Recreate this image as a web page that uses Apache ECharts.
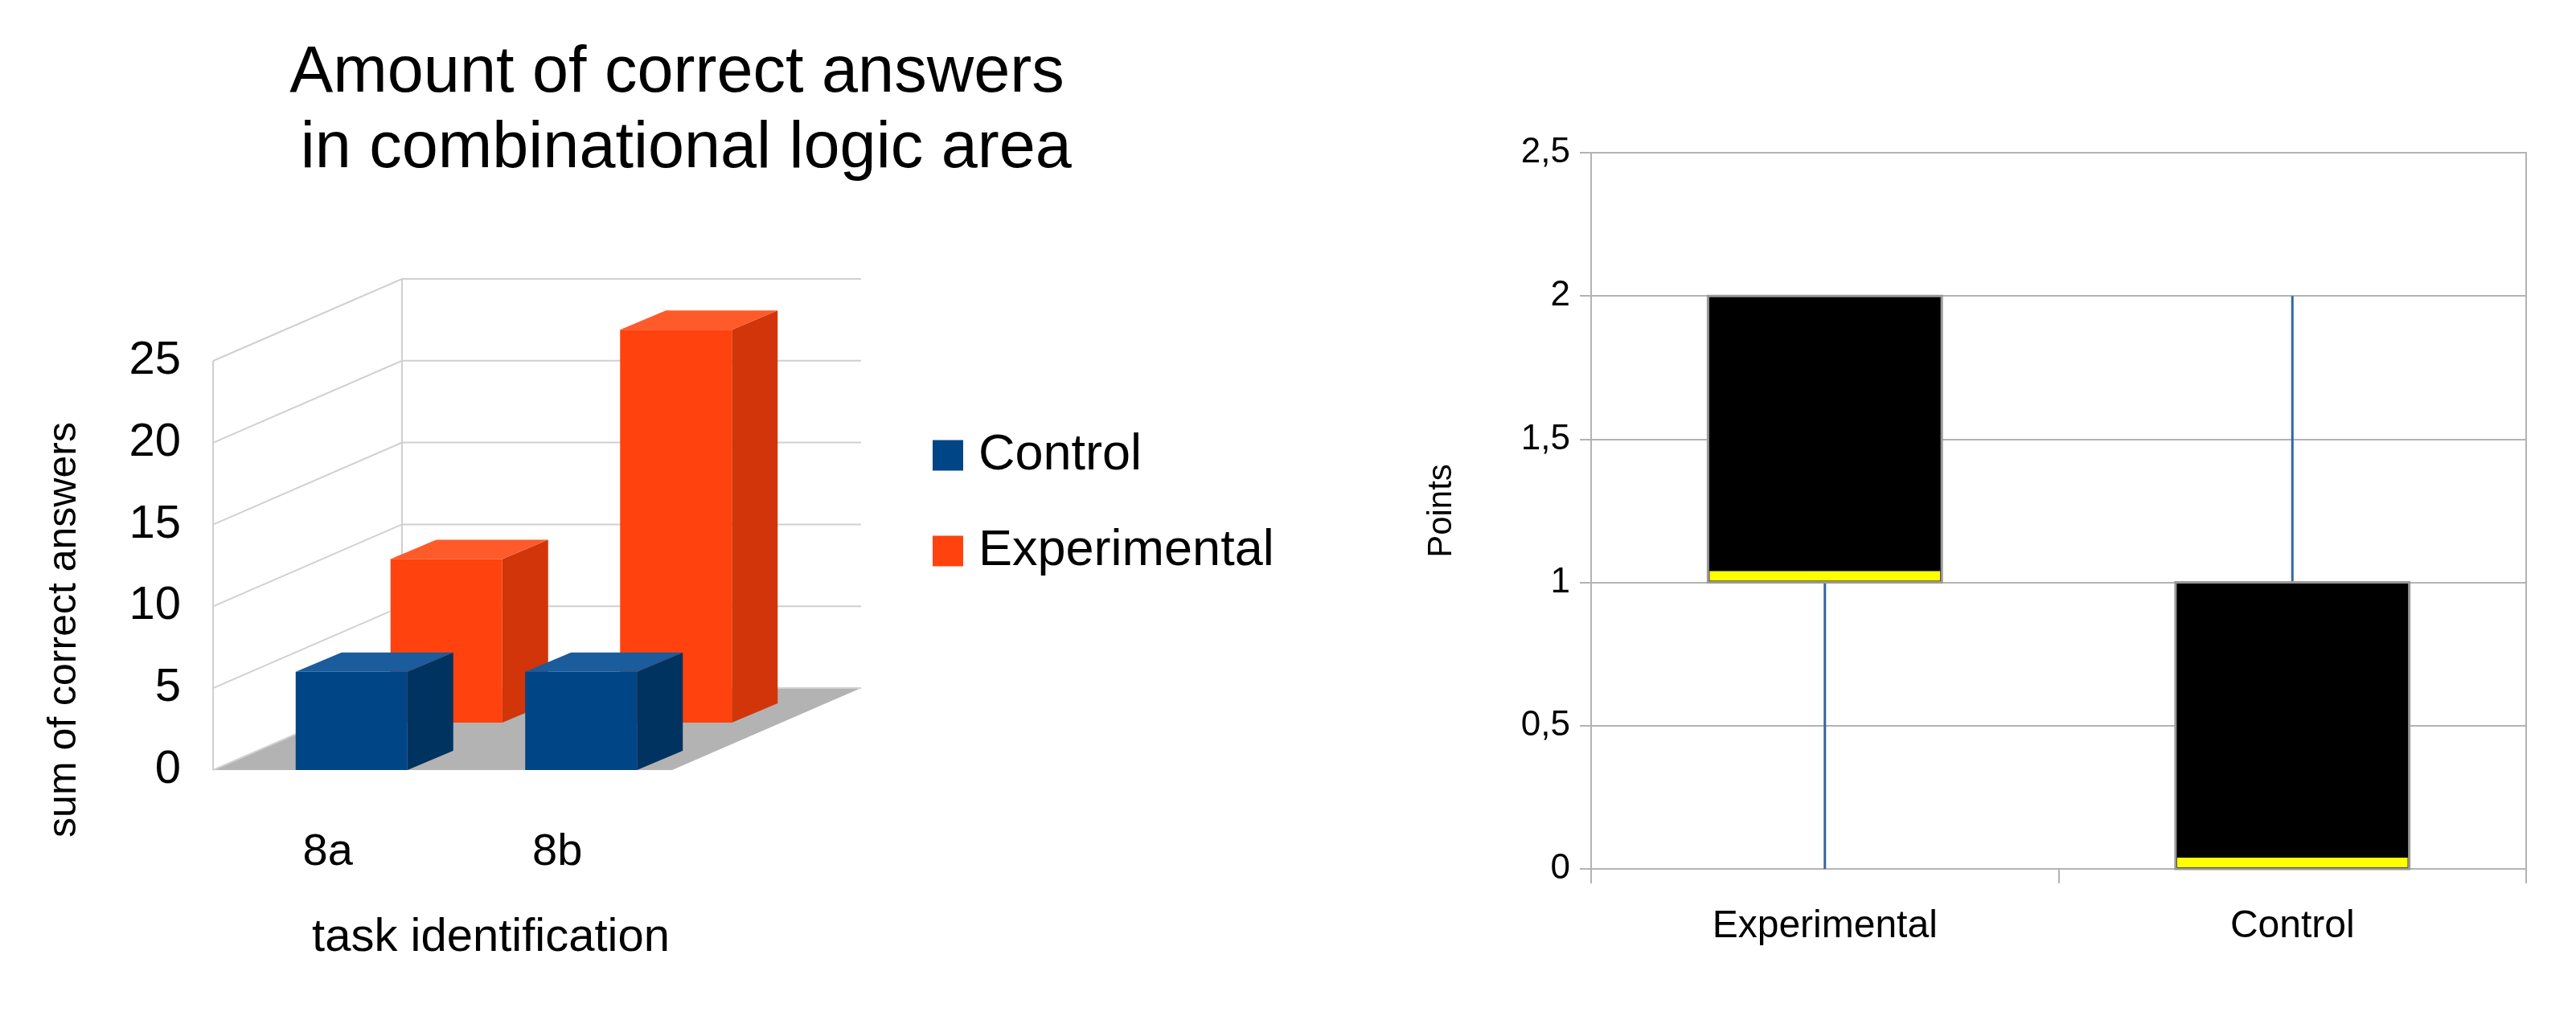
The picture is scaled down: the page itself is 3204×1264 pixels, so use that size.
<!DOCTYPE html>
<html>
<head>
<meta charset="utf-8">
<script src="https://cdn.jsdelivr.net/npm/echarts@6/dist/echarts.min.js"></script>
<style>
  html, body { margin: 0; padding: 0; background: #fff; }
  #chart { width: 3204px; height: 1264px; }
</style>
</head>
<body>
<div id="chart"></div>
<script>
// left: 3d bar chart
const tasks = ['8a', '8b'];
const controlValues = [6, 6];
const experimentalValues = [10, 24];
const barTicks = [0, 5, 10, 15, 20, 25];

// right: box plot (min, q1, median, q3, max)
const groups = ['Experimental', 'Control'];
const boxStats = [
  [0, 1, 1, 2, 2],
  [0, 0, 0, 1, 2]
];

const FONT = 'Liberation Sans, Arial, sans-serif';
const DEPTH = [235, -102]; // back wall offset
const ROW = [118, -59]; // second row offset
const BAR = [57, -24]; // bar depth
const BAR_W = 139;

function shade(front, side, top) {
  return { front, side, top };
}
const colors = {
  Control: shade('#004586', '#00335f', '#1a5c9c'),
  Experimental: shade('#ff420e', '#d2350a', '#ff5a2a')
};

function barItem(name, row) {
  return function (params, api) {
    const c = colors[name];
    const base = api.coord([api.value(0), 0]);
    const top = api.coord([api.value(0), api.value(1)]);
    const ox = row * ROW[0], oy = row * ROW[1];
    const x0 = base[0] - 40 + ox;
    const x1 = x0 + BAR_W;
    const yb = base[1] + oy;
    const yt = top[1] + oy;
    const [dx, dy] = BAR;
    return {
      type: 'group',
      children: [
        { type: 'polygon', shape: { points: [[x1, yt], [x1 + dx, yt + dy], [x1 + dx, yb + dy], [x1, yb]] }, style: { fill: c.side } },
        { type: 'polygon', shape: { points: [[x0, yt], [x0 + dx, yt + dy], [x1 + dx, yt + dy], [x1, yt]] }, style: { fill: c.top } },
        { type: 'rect', shape: { x: x0, y: yt, width: BAR_W, height: yb - yt }, style: { fill: c.front } }
      ]
    };
  };
}

function wallItem(params, api) {
  const cs = params.coordSys;
  const gx = cs.x, gr = cs.x + cs.width;
  const [dx, dy] = DEPTH;
  const y0 = api.coord([0, 0])[1];
  const children = [
    { type: 'polygon', shape: { points: [[gx, y0], [gr, y0], [gr + dx, y0 + dy], [gx + dx, y0 + dy]] }, style: { fill: '#b3b3b3' } }
  ];
  barTicks.forEach(function (t) {
    const y = api.coord([0, t])[1];
    children.push({ type: 'polyline', shape: { points: [[gx, y], [gx + dx, y + dy], [gr + dx, y + dy]] }, style: { stroke: '#d0d0d0', lineWidth: 2, fill: null } });
  });
  const yTop = api.coord([0, barTicks[barTicks.length - 1]])[1];
  children.push({ type: 'line', shape: { x1: gx + dx, y1: y0 + dy, x2: gx + dx, y2: yTop + dy }, style: { stroke: '#d0d0d0', lineWidth: 2 } });
  children.push({ type: 'line', shape: { x1: gx, y1: y0, x2: gx, y2: yTop }, style: { stroke: '#d0d0d0', lineWidth: 2 } });
  return { type: 'group', children };
}

function boxItem(params, api) {
  const i = api.value(0);
  const pMin = api.coord([i, api.value(1)]);
  const pQ1 = api.coord([i, api.value(2)]);
  const pMed = api.coord([i, api.value(3)]);
  const pQ3 = api.coord([i, api.value(4)]);
  const pMax = api.coord([i, api.value(5)]);
  const w = api.size([1, 0])[0] * 0.5;
  const x = pQ1[0] - w / 2;
  return {
    type: 'group',
    children: [
      { type: 'line', shape: { x1: pMin[0], y1: pMin[1], x2: pMax[0], y2: pMax[1] }, style: { stroke: '#3465a4', lineWidth: 3 } },
      { type: 'rect', shape: { x: x, y: pQ3[1], width: w, height: pQ1[1] - pQ3[1] }, style: { fill: '#000', stroke: '#999', lineWidth: 3 } },
      { type: 'rect', shape: { x: x + 2, y: pMed[1] - 14, width: w - 4, height: 12 }, style: { fill: '#ffff00' } }
    ]
  };
}

const chart = echarts.init(document.getElementById('chart'));
chart.setOption({
  animation: false,
  textStyle: { fontFamily: FONT },
  title: {
    text: 'Amount of correct answers\n in combinational logic area',
    left: 837, top: 40, textAlign: 'center',
    textStyle: { fontSize: 81, fontWeight: 'normal', color: '#000', lineHeight: 94, fontFamily: FONT }
  },
  legend: {
    data: ['Control', 'Experimental'],
    orient: 'vertical', left: 1155, top: 530, itemGap: 56,
    icon: 'rect', itemWidth: 38, itemHeight: 38,
    textStyle: { fontSize: 63, color: '#000', fontFamily: FONT, padding: [0, 0, 0, 14] }
  },
  grid: [
    { left: 265, top: 449, width: 571, height: 509 },
    { left: 1979, top: 190, width: 1163, height: 891, show: true, borderColor: '#b3b3b3', borderWidth: 2 }
  ],
  xAxis: [
    {
      gridIndex: 0, type: 'category', data: tasks,
      axisLine: { show: false }, axisTick: { show: false },
      axisLabel: { fontSize: 56, color: '#000', margin: 75 },
      name: 'task identification', nameLocation: 'middle', nameGap: 180,
      nameTextStyle: { fontSize: 58, color: '#000', padding: [0, 0, 0, 120] }
    },
    {
      gridIndex: 1, type: 'category', data: groups,
      axisLine: { lineStyle: { color: '#b3b3b3', width: 2 } },
      axisTick: { show: true, length: 18, lineStyle: { color: '#b3b3b3', width: 2 } },
      axisLabel: { fontSize: 48, color: '#000', margin: 48 }
    }
  ],
  yAxis: [
    {
      gridIndex: 0, type: 'value', min: 0, max: 25, interval: 5,
      axisLine: { show: false }, axisTick: { show: false }, splitLine: { show: false },
      axisLabel: { fontSize: 58, color: '#000', margin: 40 },
      name: 'sum of correct answers', nameLocation: 'middle', nameGap: 160,
      nameTextStyle: { fontSize: 50, color: '#000', padding: [0, 0, 0, -160] }
    },
    {
      gridIndex: 1, type: 'value', min: 0, max: 2.5, interval: 0.5,
      axisLine: { show: true, lineStyle: { color: '#b3b3b3', width: 2 } },
      axisTick: { show: true, length: 14, lineStyle: { color: '#b3b3b3', width: 2 } },
      splitLine: { lineStyle: { color: '#b3b3b3', width: 2 } },
      axisLabel: { fontSize: 44, color: '#000', margin: 26, formatter: v => String(v).replace('.', ',') },
      name: 'Points', nameLocation: 'middle', nameGap: 165,
      nameTextStyle: { fontSize: 42, color: '#000' }
    }
  ],
  series: [
    {
      name: 'walls', type: 'custom', xAxisIndex: 0, yAxisIndex: 0, silent: true, z: 1,
      data: [[0, 0]], renderItem: wallItem
    },
    {
      name: 'Experimental', type: 'custom', xAxisIndex: 0, yAxisIndex: 0, z: 2,
      itemStyle: { color: colors.Experimental.front },
      data: experimentalValues.map((v, i) => [i, v]), renderItem: barItem('Experimental', 1)
    },
    {
      name: 'Control', type: 'custom', xAxisIndex: 0, yAxisIndex: 0, z: 3,
      itemStyle: { color: colors.Control.front },
      data: controlValues.map((v, i) => [i, v]), renderItem: barItem('Control', 0)
    },
    {
      name: 'box', type: 'custom', xAxisIndex: 1, yAxisIndex: 1, z: 4,
      data: boxStats.map((s, i) => [i].concat(s)), renderItem: boxItem
    }
  ]
});
</script>
</body>
</html>
